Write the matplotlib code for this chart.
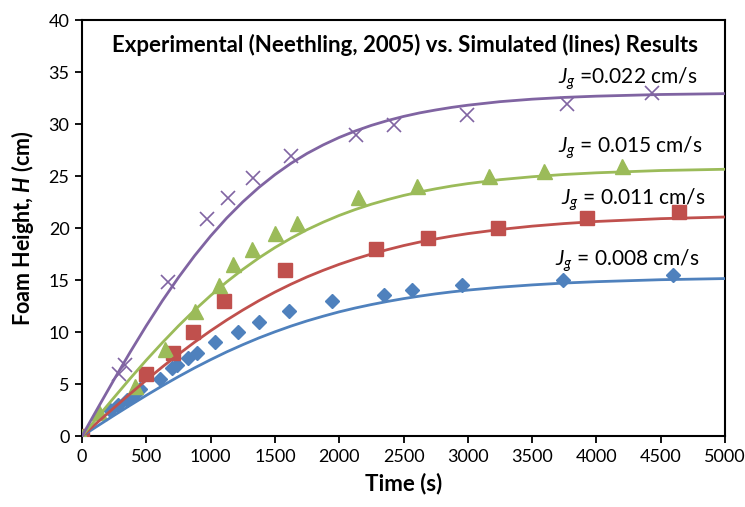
import matplotlib
matplotlib.use('Agg')
import matplotlib.pyplot as plt

plt.rcParams['font.family'] = 'Lato'
plt.rcParams['mathtext.fontset'] = 'custom'
plt.rcParams['mathtext.rm'] = 'Lato'
plt.rcParams['mathtext.it'] = 'Lato:italic'
plt.rcParams['mathtext.bf'] = 'Lato:bold'
plt.rcParams['mathtext.bfit'] = 'Lato:bold:italic'

# Experimental points (Neethling, 2005)
t_008 = [0, 218, 280, 350, 412, 451, 607, 700, 739, 824, 894, 1034, 1213, 1376, 1610, 1944, 2348, 2566, 2955, 3740, 4596]
h_008 = [0, 2.5, 3.0, 3.5, 4.0, 4.5, 5.5, 6.5, 6.8, 7.5, 8.0, 9.0, 10.0, 11.0, 12.0, 13.0, 13.6, 14.0, 14.5, 15.0, 15.5]

t_011 = [0, 500, 708, 860, 1104, 1579, 2286, 2690, 3235, 3927, 4642]
h_011 = [0, 6.0, 8.0, 10.0, 13.0, 16.0, 18.0, 19.0, 20.0, 21.0, 21.5]

t_015 = [0, 130, 412, 645, 879, 1065, 1174, 1322, 1500, 1672, 2146, 2605, 3165, 3593, 4199]
h_015 = [0, 2.3, 4.8, 8.4, 12.0, 14.5, 16.5, 18.0, 19.5, 20.5, 23.0, 24.0, 25.0, 25.5, 26.0]

t_022 = [0, 290, 335, 669, 970, 1137, 1328, 1625, 2128, 2424, 2990, 3775, 4431]
h_022 = [0, 6.0, 6.8, 14.8, 20.9, 22.9, 24.8, 26.9, 28.9, 29.9, 30.9, 31.9, 33.0]

# Simulated curves
t_sim = [0, 125, 250, 375, 500, 625, 750, 875, 1000, 1125, 1250, 1375, 1500, 1625, 1750, 1875,
         2000, 2125, 2250, 2375, 2500, 2625, 2750, 2875, 3000, 3250, 3500, 3750, 4000, 4500, 5000]
sim_008 = [0, 1.00, 1.99, 2.96, 3.91, 4.83, 5.71, 6.55, 7.34, 8.09, 8.78, 9.43, 10.02, 10.57, 11.07, 11.52,
           11.94, 12.31, 12.64, 12.94, 13.21, 13.45, 13.67, 13.86, 14.03, 14.31, 14.53, 14.71, 14.84, 15.03, 15.14]
sim_011 = [0, 1.37, 2.73, 4.07, 5.38, 6.65, 7.86, 9.02, 10.12, 11.15, 12.11, 13.01, 13.84, 14.60, 15.30, 15.93,
           16.51, 17.03, 17.50, 17.92, 18.31, 18.65, 18.95, 19.22, 19.46, 19.86, 20.18, 20.43, 20.63, 20.90, 21.06]
sim_015 = [0, 1.87, 3.72, 5.54, 7.30, 8.98, 10.59, 12.10, 13.51, 14.82, 16.02, 17.12, 18.12, 19.02, 19.84, 20.56,
           21.21, 21.78, 22.29, 22.73, 23.13, 23.47, 23.77, 24.04, 24.27, 24.65, 24.93, 25.15, 25.31, 25.53, 25.65]
sim_022 = [0, 2.74, 5.45, 8.08, 10.61, 13.01, 15.25, 17.33, 19.23, 20.96, 22.51, 23.90, 25.13, 26.22, 27.17, 27.99,
           28.71, 29.33, 29.87, 30.33, 30.73, 31.07, 31.35, 31.60, 31.81, 32.15, 32.39, 32.56, 32.68, 32.84, 32.92]

blue = '#4F81BD'
red = '#C0504D'
green = '#9BBB59'
purple = '#8064A2'

fig = plt.figure(figsize=(7.45, 5.07), dpi=100)
ax = fig.add_axes([0.1101, 0.1400, 0.8631, 0.8205])

ax.plot(t_008, h_008, 'D', color=blue, ms=7.2, mec=blue, zorder=3)
ax.plot(t_011, h_011, 's', color=red, ms=9.8, mec=red, zorder=3)
ax.plot(t_015, h_015, '^', color=green, ms=10.8, mec=green, zorder=3)
ax.plot(t_022, h_022, 'x', color=purple, ms=10.5, mew=1.2, zorder=3)

ax.plot(t_sim, sim_008, '-', color=blue, lw=2, zorder=4)
ax.plot(t_sim, sim_011, '-', color=red, lw=2, zorder=4)
ax.plot(t_sim, sim_015, '-', color=green, lw=2, zorder=4)
ax.plot(t_sim, sim_022, '-', color=purple, lw=2, zorder=4)

ax.set_xlim(0, 5000)
ax.set_ylim(0, 40)
ax.set_xticks(range(0, 5001, 500))
ax.set_yticks(range(0, 41, 5))
ax.tick_params(direction='out', length=5, width=1.3, labelsize=13, pad=4)
for s in ax.spines.values():
    s.set_linewidth(1.5)

ax.set_xlabel('Time (s)', fontsize=16, fontweight='bold', labelpad=6)
ax.set_ylabel('Foam Height, $\\mathbfit{H}$ (cm)', fontsize=15.5, fontweight='bold', labelpad=9)

ax.text(2512, 37.6, 'Experimental (Neethling, 2005) vs. Simulated (lines) Results',
        ha='center', va='center', fontsize=16, fontweight='bold')

ax.text(3701, 34.4, '$J_g$ =0.022 cm/s', ha='left', va='center', fontsize=15)
ax.text(3701, 27.7, '$J_g$ = 0.015 cm/s', ha='left', va='center', fontsize=15)
ax.text(3725, 22.7, '$J_g$ = 0.011 cm/s', ha='left', va='center', fontsize=15)
ax.text(3678, 16.9, '$J_g$ = 0.008 cm/s', ha='left', va='center', fontsize=15)

fig.savefig('out.png', dpi=100)
